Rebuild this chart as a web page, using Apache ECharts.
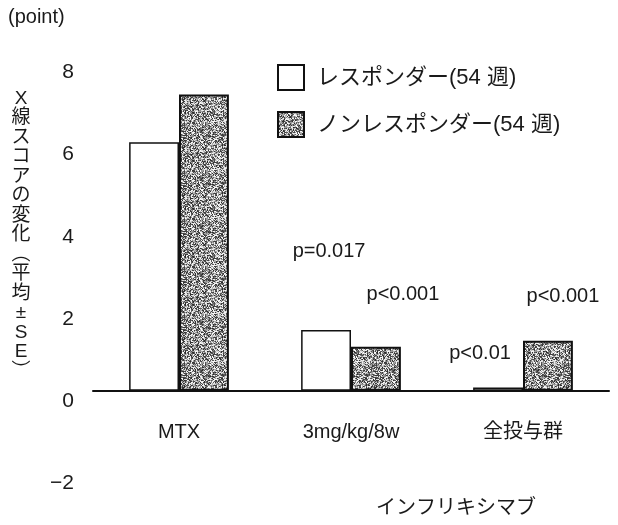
<!DOCTYPE html>
<html>
<head>
<meta charset="utf-8">
<script src="https://cdn.jsdelivr.net/npm/echarts@6/dist/echarts.min.js"></script>
<style>
  html, body { margin: 0; padding: 0; background: #fff; }
  #chart { width: 618px; height: 525px; }
</style>
</head>
<body>
<div id="chart"></div>
<script>
// ---- data ----
const categories = ['MTX', '3mg/kg/8w', '全投与群'];
const seriesNames = ['レスポンダー(54 週)', 'ノンレスポンダー(54 週)'];
const responder = [6.05, 1.48, 0.08];
const nonResponder = [7.21, 1.07, 1.22];
const responderNotes = ['', 'p=0.017', 'p<0.01'];
const nonResponderNotes = ['', 'p<0.001', 'p<0.001'];
const yMin = -2, yMax = 8, yStep = 2;
const yTitle = 'X線スコアの変化︵平均±SE︶';
const unitText = '(point)';
const xTitle = 'インフリキシマブ';

// ---- styles ----
const FONT = "'Liberation Sans', 'Noto Sans CJK JP', sans-serif";
const INK = '#1a1a1a';

// stipple texture (deterministic)
function makeTexture() {
  const c = document.createElement('canvas');
  c.width = 48; c.height = 48;
  const ctx = c.getContext('2d');
  const img = ctx.createImageData(48, 48);
  let s = 12345;
  const rnd = () => { s = (s * 1103515245 + 12345) & 0x7fffffff; return s / 0x7fffffff; };
  for (let i = 0; i < 48 * 48; i++) {
    const r = rnd();
    let v = r < 0.38 ? 40 + rnd() * 60 : (r < 0.7 ? 130 + rnd() * 60 : 215 + rnd() * 40);
    img.data[i * 4] = v; img.data[i * 4 + 1] = v; img.data[i * 4 + 2] = v; img.data[i * 4 + 3] = 255;
  }
  ctx.putImageData(img, 0, 0);
  return c;
}
const texture = { image: makeTexture(), repeat: 'repeat' };

// label offsets relative to bar top (style)
const respOffsets = [[0, 0], [3, -68], [-18, -24]];
const nonOffsets = [[0, 0], [27, -42], [15, -34]];

function buildData(values, notes, offsets) {
  return values.map((v, i) => ({
    value: v,
    label: {
      show: !!notes[i],
      formatter: notes[i],
      position: 'top',
      distance: 0,
      offset: offsets[i],
      fontSize: 20,
      fontFamily: FONT,
      color: INK
    }
  }));
}

const chart = echarts.init(document.getElementById('chart'));
chart.setOption({
  animation: false,
  backgroundColor: '#fff',
  grid: { left: 93, right: 9, top: 62, bottom: 52 },
  legend: {
    orient: 'vertical',
    left: 277, top: 64,
    padding: 0,
    itemWidth: 26, itemHeight: 25,
    itemGap: 20,
    icon: 'rect',
    textStyle: { fontSize: 22, fontFamily: FONT, color: INK, padding: [0, 0, 0, 8] },
    data: seriesNames
  },
  xAxis: {
    type: 'category',
    data: categories,
    axisLine: { show: true, onZero: true, lineStyle: { color: '#111', width: 2 } },
    axisTick: { show: false },
    axisLabel: { margin: -51, fontSize: 20, fontFamily: FONT, color: INK }
  },
  yAxis: {
    type: 'value',
    min: yMin, max: yMax, interval: yStep,
    axisLine: { show: false },
    axisTick: { show: false },
    splitLine: { show: false },
    axisLabel: {
      margin: 19, fontSize: 21, fontFamily: FONT, color: INK,
      verticalAlign: 'top',
      formatter: v => (v < 0 ? '\u2212' + Math.abs(v) : String(v))
    }
  },
  graphic: [
    { type: 'text', left: 8, top: 7, style: { text: unitText, fontSize: 20, fontFamily: FONT, fill: INK } },
    { type: 'text', x: 21, y: 89, style: { text: yTitle.split('').join('\n'), fontSize: 19, lineHeight: 19.5, fontFamily: FONT, fill: INK, align: 'center' } },
    { type: 'text', x: 456, y: 508, style: { text: xTitle, fontSize: 20, fontFamily: FONT, fill: INK, align: 'center', verticalAlign: 'middle' } }
  ],
  series: [
    {
      name: seriesNames[0],
      type: 'bar',
      barGap: '0%',
      barCategoryGap: '42%',
      itemStyle: { color: '#ffffff', borderColor: '#111', borderWidth: 1.5 },
      data: buildData(responder, responderNotes, respOffsets)
    },
    {
      name: seriesNames[1],
      type: 'bar',
      itemStyle: { color: texture, borderColor: '#111', borderWidth: 2 },
      data: buildData(nonResponder, nonResponderNotes, nonOffsets)
    }
  ]
});
</script>
</body>
</html>
